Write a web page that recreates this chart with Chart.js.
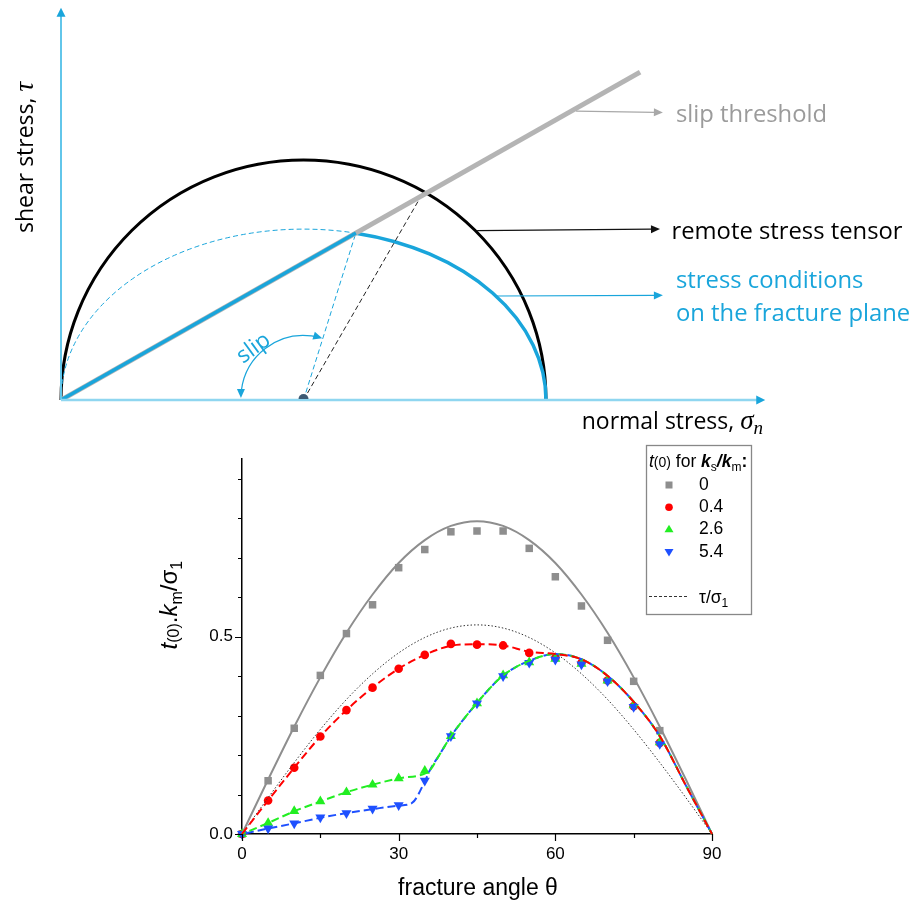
<!DOCTYPE html>
<html><head><meta charset="utf-8">
<script src="https://cdn.jsdelivr.net/npm/chart.js@4.4.1/dist/chart.umd.min.js"></script>
<style>
html,body{margin:0;padding:0;background:#fff;}
#wrap{position:relative;width:924px;height:902px;overflow:hidden;background:#fff;}
canvas{position:absolute;left:0;}
#mohr{top:0;}
#tchart{top:440px;}
</style></head>
<body><div id="wrap"><canvas id="mohr" width="924" height="440"></canvas><canvas id="tchart" width="924" height="462"></canvas></div>
<script>
// ================= TOP: Mohr diagram (stresses normalised by sigma1) =================
const sigmaRange = [0, 1.6];
const tauRange = [0, 0.8];
const remoteStress = [0, 1];                 // [sigma3, sigma1] of the remote stress tensor
const fracturePeakTau = [0.356];             // peak shear of the fracture-plane locus
const slipThreshold = [[0, 0], [1.194, 0.683]];
const slipOnset = [0.608, 0.348];            // where the locus meets the slip threshold
const remotePlanePoint = [0.746, 0.431];     // point on the remote circle
const axisEnds = [1.452, 0.817];             // arrow tips of sigma_n and tau axes
const slipArcRadius = [0.129];
const leaderSlip = [[1.062, 0.602], [1.241, 0.599]];
const leaderRemote = [[0.858, 0.353], [1.235, 0.356]];
const leaderPlane = [[0.899, 0.2167], [1.241, 0.218]];
const labelSlip = ['slip threshold'];
const labelRemote = ['remote stress tensor'];
const labelPlane = ['stress conditions', 'on the fracture plane'];

// ================= BOTTOM: t(0).km/sigma1 vs fracture angle =================
const markerAngles = [0,5,10,15,20,25,30,35,40,45,50,55,60,65,70,75,80];
const t0_ks0  = [0,0.135,0.268,0.402,0.508,0.581,0.675,0.721,0.766,0.768,0.768,0.724,0.652,0.578,0.491,0.387,0.262];
const t0_ks04 = [0,0.085,0.168,0.247,0.314,0.371,0.419,0.454,0.482,0.480,0.478,0.459,0.446,0.434,0.389,0.324,0.231];
const t0_ks26 = [0,0.028,0.058,0.083,0.106,0.125,0.141,0.160,0.248,0.331,0.402,0.435,0.444,0.431,0.389,0.326,0.232];
const t0_ks54 = [0,0.014,0.027,0.042,0.053,0.064,0.073,0.135,0.248,0.331,0.400,0.434,0.442,0.430,0.387,0.322,0.228];

const curveAngles = [0,5,10,15,20,25,30,35,40,45,50,55,60,65,70,75,80,85,90];
const fitKs0   = [0,0.138,0.272,0.397,0.510,0.607,0.687,0.745,0.781,0.793,0.781,0.745,0.687,0.607,0.510,0.397,0.272,0.138,0];
const tauRatio = [0,0.092,0.181,0.265,0.341,0.406,0.459,0.498,0.522,0.530,0.522,0.498,0.459,0.406,0.341,0.265,0.181,0.092,0];
const fitKs04  = [0,0.085,0.168,0.247,0.314,0.371,0.419,0.454,0.477,0.481,0.478,0.462,0.456,0.443,0.401,0.335,0.248,0.123,0];
const fitKs26Angles = [0,5,10,15,20,25,30,35,36,38,40,42.5,45,47.5,50,55,60,65,70,75,80,85,90];
const fitKs26 = [0,0.028,0.0575,0.0825,0.106,0.125,0.141,0.153,0.162,0.205,0.2475,0.292,0.332,0.370,0.402,0.439,0.456,0.443,0.401,0.335,0.248,0.123,0];
const fitKs54Angles = [0,5,10,15,20,25,30,32.5,35,36,38,40,42.5,45,47.5,50,55,60,65,70,75,80,85,90];
const fitKs54 = [0,0.014,0.027,0.041,0.053,0.063,0.072,0.078,0.133,0.162,0.205,0.2475,0.292,0.332,0.370,0.402,0.439,0.456,0.443,0.401,0.335,0.248,0.123,0];

const xTickLabels = [0, 30, 60, 90];
const xMinorTicks = [15, 45, 75];
const yTickLabels = [0.0, 0.5];
const yMinorTicks = [0.1, 0.2, 0.3, 0.4, 0.6, 0.7, 0.8, 0.9];
const legendLabels = ['0', '0.4', '2.6', '5.4'];

// ================= styles =================
const CYAN = '#19a5db', CYAN_AX = '#62c6ea';
const GRAY = '#8e8e8e', RED = '#ff0000', GREEN = '#22ee22', BLUE = '#1e50ff';
const SANS = '"Liberation Sans", Arial, sans-serif';
const OPEN = '"Open Sans", "Noto Sans", sans-serif';
const SERIF_I = 'italic {s}px "Liberation Serif", "DejaVu Serif", serif';

Chart.defaults.font.family = SANS;

const P = (arr) => arr.map(p => ({x: p[0], y: p[1]}));
const pts = (xs, ys) => xs.map((x, i) => ({x, y: ys[i]}));

function drawRich(ctx, parts, x, y) {
  let cx = x;
  for (const p of parts) {
    ctx.font = p.f;
    ctx.fillText(p.t, cx, y + (p.dy || 0));
    cx += ctx.measureText(p.t).width;
  }
  return cx - x;
}
function richWidth(ctx, parts) {
  let w = 0;
  for (const p of parts) { ctx.font = p.f; w += ctx.measureText(p.t).width; }
  return w;
}
function head(ctx, x, y, ang, len, half, color) {
  ctx.save(); ctx.translate(x, y); ctx.rotate(ang);
  ctx.beginPath(); ctx.moveTo(0, 0); ctx.lineTo(-len, -half); ctx.lineTo(-len, half); ctx.closePath();
  ctx.fillStyle = color; ctx.fill(); ctx.restore();
}
function leader(ctx, X, Y, seg, color) {
  const x0 = X(seg[0][0]), y0 = Y(seg[0][1]), x1 = X(seg[1][0]), y1 = Y(seg[1][1]);
  const ang = Math.atan2(y1 - y0, x1 - x0);
  ctx.strokeStyle = color; ctx.lineWidth = 1.2; ctx.setLineDash([]);
  ctx.beginPath(); ctx.moveTo(x0, y0); ctx.lineTo(x1 - 8 * Math.cos(ang), y1 - 8 * Math.sin(ang)); ctx.stroke();
  head(ctx, x1, y1, ang, 9, 4, color);
}

const mohrPlugin = {
  id: 'mohr',
  beforeDatasetsDraw(chart) {
    const {ctx, scales: {x, y}} = chart;
    const X = v => x.getPixelForValue(v), Y = v => y.getPixelForValue(v);
    const cVal = (remoteStress[0] + remoteStress[1]) / 2, rVal = (remoteStress[1] - remoteStress[0]) / 2;
    const cx = X(cVal), cy = Y(0), rx = X(remoteStress[1]) - cx;
    const ryB = cy - Y(rVal), ryC = cy - Y(fracturePeakTau[0]);
    const t0 = Math.acos((slipOnset[0] - cVal) / rVal);
    ctx.save();
    ctx.lineCap = 'butt';
    ctx.beginPath(); ctx.ellipse(cx, cy, rx, ryB, 0, Math.PI, 2 * Math.PI);
    ctx.strokeStyle = '#000'; ctx.lineWidth = 3; ctx.stroke();
    ctx.beginPath(); ctx.setLineDash([5, 3]); ctx.ellipse(cx, cy, rx, ryC, 0, Math.PI, 2 * Math.PI - t0);
    ctx.strokeStyle = CYAN; ctx.lineWidth = 1; ctx.stroke();
    ctx.setLineDash([]);
    ctx.beginPath(); ctx.ellipse(cx, cy, rx, ryC, 0, 2 * Math.PI - t0, 2 * Math.PI);
    ctx.lineWidth = 3.5; ctx.stroke();
    ctx.restore();
  },
  afterDatasetsDraw(chart) {
    const {ctx, scales: {x, y}} = chart;
    const X = v => x.getPixelForValue(v), Y = v => y.getPixelForValue(v);
    const cVal = (remoteStress[0] + remoteStress[1]) / 2;
    const x0 = X(0), y0 = Y(0);
    ctx.save();
    // axes
    ctx.strokeStyle = CYAN_AX; ctx.lineWidth = 2;
    ctx.beginPath(); ctx.moveTo(x0, y0); ctx.lineTo(x0, Y(axisEnds[1]) + 8); ctx.stroke();
    head(ctx, x0, Y(axisEnds[1]), -Math.PI / 2, 9, 4.5, CYAN);
    ctx.strokeStyle = '#8fd6f0'; ctx.lineWidth = 2.5;
    ctx.beginPath(); ctx.moveTo(x0, y0); ctx.lineTo(X(axisEnds[0]) - 8, y0); ctx.stroke();
    head(ctx, X(axisEnds[0]), y0, 0, 9, 4.5, CYAN);
    // centre dot
    const cx = X(cVal);
    ctx.beginPath(); ctx.arc(cx, y0 - 1, 5, Math.PI, 2 * Math.PI); ctx.fillStyle = '#3d5a73'; ctx.fill();
    // slip arc
    const rs = X(cVal + slipArcRadius[0]) - cx;
    const aEnd = Math.atan2(Y(slipOnset[1]) - y0, X(slipOnset[0]) - cx) + 2 * Math.PI;
    const d = 8 / rs;
    ctx.strokeStyle = CYAN; ctx.lineWidth = 1.2;
    ctx.beginPath(); ctx.arc(cx, y0 - 2, rs, Math.PI + d, aEnd - d); ctx.stroke();
    head(ctx, cx - rs, y0 - 2, Math.PI / 2, 9, 4, CYAN);
    head(ctx, cx + rs * Math.cos(aEnd), y0 - 2 + rs * Math.sin(aEnd), aEnd + Math.PI / 2, 9, 4, CYAN);
    ctx.fillStyle = CYAN; ctx.font = '22.5px ' + OPEN; ctx.textBaseline = 'alphabetic'; ctx.textAlign = 'left';
    ctx.save(); ctx.translate(243, 364); ctx.rotate(-36 * Math.PI / 180); ctx.fillText('slip', 0, 0); ctx.restore();
    // leaders
    leader(ctx, X, Y, leaderSlip, '#a8a8a8');
    leader(ctx, X, Y, leaderRemote, '#111');
    leader(ctx, X, Y, leaderPlane, CYAN);
    // labels
    const f = '23.8px ' + OPEN;
    ctx.font = f;
    ctx.fillStyle = '#9b9b9b'; ctx.fillText(labelSlip[0], 676, 122);
    ctx.fillStyle = '#000'; ctx.fillText(labelRemote[0], 671.5, 239);
    ctx.fillStyle = CYAN; ctx.fillText(labelPlane[0], 676, 287.5); ctx.fillText(labelPlane[1], 676, 320.5);
    // axis titles
    ctx.fillStyle = '#000';
    drawRich(ctx, [
      {t: 'normal stress, ', f: '23px ' + OPEN},
      {t: '\u03c3', f: SERIF_I.replace('{s}', 27)},
      {t: 'n', f: SERIF_I.replace('{s}', 19), dy: 5}
    ], 581.7, 429.3);
    ctx.save(); ctx.translate(33, 233); ctx.rotate(-Math.PI / 2);
    drawRich(ctx, [
      {t: 'shear stress, ', f: '23px ' + OPEN},
      {t: '\u03c4', f: SERIF_I.replace('{s}', 27)}
    ], 0, 0);
    ctx.restore();
    ctx.restore();
  }
};

new Chart(document.getElementById('mohr'), {
  type: 'line',
  data: { datasets: [
    { data: P([[0, 0], slipOnset]), borderColor: CYAN, borderWidth: 3.5 },
    { data: P(slipThreshold), borderColor: '#b4b4b4', borderWidth: 5 },
    { data: P([[(remoteStress[0] + remoteStress[1]) / 2, 0], remotePlanePoint]), borderColor: '#222', borderWidth: 1, borderDash: [5, 3] },
    { data: P([[(remoteStress[0] + remoteStress[1]) / 2, 0], slipOnset]), borderColor: CYAN, borderWidth: 1, borderDash: [5, 3] }
  ]},
  options: {
    responsive: false, animation: false, events: [],
    layout: {padding: {left: 61, right: 87, top: 16, bottom: 40}},
    scales: {
      x: {type: 'linear', display: false, min: sigmaRange[0], max: sigmaRange[1]},
      y: {type: 'linear', display: false, min: tauRange[0], max: tauRange[1]}
    },
    plugins: {legend: {display: false}, tooltip: {enabled: false}},
    elements: {point: {radius: 0}, line: {tension: 0, borderCapStyle: 'butt', fill: false}}
  },
  plugins: [mohrPlugin]
});

// ================= bottom chart =================
function lineDs(xs, ys, color, width, dash, offset) {
  return {data: pts(xs, ys), borderColor: color, borderWidth: width, borderDash: dash, borderDashOffset: offset,
          pointRadius: 0, cubicInterpolationMode: 'monotone', clip: false, fill: false};
}
function markerDs(ys, color, style, r, rot) {
  return {data: pts(markerAngles, ys), showLine: false, pointStyle: style, pointRadius: r, pointRotation: rot,
          pointBackgroundColor: color, pointBorderColor: color, pointBorderWidth: 0, clip: false};
}

const decorPlugin = {
  id: 'decor',
  afterDraw(chart) {
    const {ctx, chartArea: a, scales: {x, y}} = chart;
    ctx.save();
    ctx.strokeStyle = '#000'; ctx.lineWidth = 1.2; ctx.setLineDash([]);
    ctx.beginPath();
    for (const v of xTickLabels) { const px = Math.round(x.getPixelForValue(v)) + 0.5; ctx.moveTo(px, a.bottom); ctx.lineTo(px, a.bottom + 7); }
    for (const v of xMinorTicks) { const px = Math.round(x.getPixelForValue(v)) + 0.5; ctx.moveTo(px, a.bottom); ctx.lineTo(px, a.bottom + 4); }
    for (const v of yTickLabels) { const py = Math.round(y.getPixelForValue(v)) + 0.5; ctx.moveTo(a.left, py); ctx.lineTo(a.left - 7, py); }
    for (const v of yMinorTicks) { const py = Math.round(y.getPixelForValue(v)) + 0.5; ctx.moveTo(a.left, py); ctx.lineTo(a.left - 4, py); }
    ctx.stroke();

    ctx.fillStyle = '#000'; ctx.textBaseline = 'alphabetic';
    ctx.font = '23px ' + SANS; ctx.textAlign = 'center';
    ctx.fillText('fracture angle \u03b8', (a.left + a.right) / 2 + 1, a.bottom + 61);
    ctx.textAlign = 'left';

    // y title
    const yParts = [
      {t: 't', f: 'italic 24px ' + SANS},
      {t: '(0)', f: '16px ' + SANS, dy: 2},
      {t: '.', f: '24px ' + SANS},
      {t: 'k', f: 'italic 24px ' + SANS},
      {t: 'm', f: '16px ' + SANS, dy: 5},
      {t: '/\u03c3', f: '24px ' + SANS},
      {t: '1', f: '16px ' + SANS, dy: 5}
    ];
    const yw = richWidth(ctx, yParts);
    ctx.save(); ctx.translate(a.left - 65, (y.getPixelForValue(0.58)) + yw / 2); ctx.rotate(-Math.PI / 2);
    drawRich(ctx, yParts, 0, 0);
    ctx.restore();

    // legend
    const L = 646, T = 5, R = 751, B = 174;
    ctx.fillStyle = '#fff'; ctx.fillRect(L, T, R - L, B - T);
    ctx.strokeStyle = '#888'; ctx.lineWidth = 1.3; ctx.strokeRect(L + 0.5, T + 0.5, R - L, B - T);
    ctx.fillStyle = '#000';
    drawRich(ctx, [
      {t: 't', f: 'italic 17.5px ' + SANS},
      {t: '(0)', f: '14px ' + SANS},
      {t: ' for ', f: '17.5px ' + SANS},
      {t: 'k', f: 'bold italic 17.5px ' + SANS},
      {t: 's', f: '12px ' + SANS, dy: 4},
      {t: '/', f: 'bold italic 17.5px ' + SANS},
      {t: 'k', f: 'bold italic 17.5px ' + SANS},
      {t: 'm', f: '12px ' + SANS, dy: 4},
      {t: ':', f: 'bold 17.5px ' + SANS}
    ], 649, 26.5);
    const rows = [45, 67.3, 89.3, 112];
    const mx = 669;
    // markers
    ctx.fillStyle = GRAY; ctx.fillRect(mx - 3.5, rows[0] - 3.5, 7, 7);
    ctx.fillStyle = RED; ctx.beginPath(); ctx.arc(mx, rows[1], 3.8, 0, 2 * Math.PI); ctx.fill();
    ctx.fillStyle = GREEN; ctx.beginPath(); ctx.moveTo(mx, rows[2] - 4.5); ctx.lineTo(mx + 4.5, rows[2] + 3); ctx.lineTo(mx - 4.5, rows[2] + 3); ctx.closePath(); ctx.fill();
    ctx.fillStyle = BLUE; ctx.beginPath(); ctx.moveTo(mx, rows[3] + 4.5); ctx.lineTo(mx + 4.5, rows[3] - 3); ctx.lineTo(mx - 4.5, rows[3] - 3); ctx.closePath(); ctx.fill();
    ctx.fillStyle = '#000'; ctx.font = '17.5px ' + SANS; ctx.textBaseline = 'middle';
    legendLabels.forEach((s, i) => ctx.fillText(s, 699, rows[i]));
    ctx.strokeStyle = '#333'; ctx.lineWidth = 1; ctx.setLineDash([3, 2]);
    ctx.beginPath(); ctx.moveTo(649, 156.5); ctx.lineTo(687, 156.5); ctx.stroke(); ctx.setLineDash([]);
    ctx.textBaseline = 'alphabetic';
    drawRich(ctx, [
      {t: '\u03c4/\u03c3', f: '17.5px ' + SANS},
      {t: '1', f: '12px ' + SANS, dy: 4}
    ], 699, 163);
    ctx.restore();
  }
};

new Chart(document.getElementById('tchart'), {
  type: 'line',
  data: { datasets: [
    lineDs(curveAngles, fitKs04, RED, 2, [8, 4], 0),
    lineDs(fitKs26Angles, fitKs26, GREEN, 2, [8, 4], 4),
    lineDs(fitKs54Angles, fitKs54, BLUE, 2, [8, 4], 8),
    lineDs(curveAngles, fitKs0, GRAY, 2, [], 0),
    lineDs(curveAngles, tauRatio, '#333', 1, [1.5, 2], 0),
    markerDs(t0_ks54, BLUE, 'triangle', 5.8, 180),
    markerDs(t0_ks26, GREEN, 'triangle', 5.8, 0),
    markerDs(t0_ks04, RED, 'circle', 4.3, 0),
    markerDs(t0_ks0, GRAY, 'rect', 5.3, 0)
  ]},
  options: {
    responsive: false, animation: false, events: [],
    layout: {padding: {left: 0, right: 212, top: 15, bottom: 0}},
    plugins: {legend: {display: false}, tooltip: {enabled: false}},
    scales: {
      x: {type: 'linear', min: 0, max: 90,
          afterFit: s => { s.height = 68; },
          grid: {display: false, drawTicks: false},
          border: {display: true, color: '#000', width: 1.5},
          ticks: {stepSize: 15, autoSkip: false, maxRotation: 0, padding: 10, color: '#000', font: {size: 17, family: SANS},
                  callback: v => xTickLabels.includes(v) ? String(v) : ''}},
      y: {type: 'linear', min: 0, max: 0.95,
          afterFit: s => { s.width = 242; },
          grid: {display: false, drawTicks: false},
          border: {display: true, color: '#000', width: 1.5},
          ticks: {stepSize: 0.1, autoSkip: false, padding: 9, color: '#000', font: {size: 17, family: SANS},
                  callback: v => { const t = yTickLabels.find(q => Math.abs(q - v) < 1e-6); return t === undefined ? '' : t.toFixed(1); }}}
    }
  },
  plugins: [decorPlugin]
});
</script></body></html>
